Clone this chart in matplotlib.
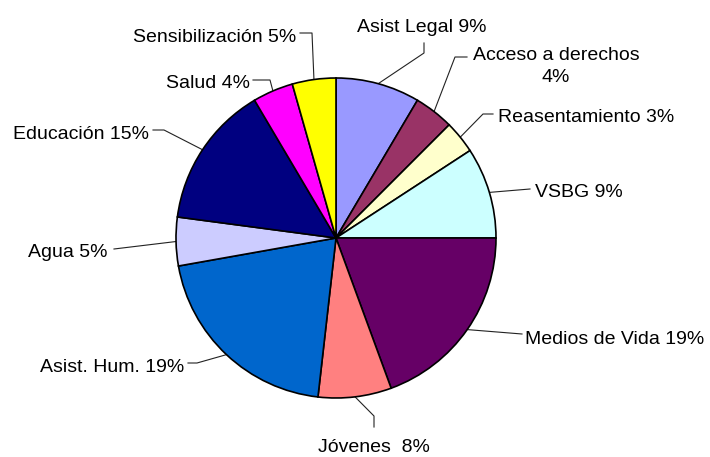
import numpy as np
import matplotlib.pyplot as plt
from matplotlib import font_manager

# slice data, clockwise from 12 o'clock
names = ['Asist Legal', 'Acceso a derechos', 'Reasentamiento', 'VSBG', 'Medios de Vida',
         'Jóvenes', 'Asist. Hum.', 'Agua', 'Educación', 'Salud', 'Sensibilización']
shares = [8.5, 4.0, 3.3, 9.2, 19.4, 7.4, 20.4, 4.9, 14.4, 4.1, 4.4]
pct_labels = ['9%', '4%', '3%', '9%', '19%', '8%', '19%', '5%', '15%', '4%', '5%']
colors = ['#9999FF', '#993366', '#FFFFCC', '#CCFFFF', '#660066', '#FF8080',
          '#0066CC', '#CCCCFF', '#000080', '#FF00FF', '#FFFF00']
label_text = ['Asist Legal 9%', 'Acceso a derechos\n4%', 'Reasentamiento 3%', 'VSBG 9%',
              'Medios de Vida 19%', 'Jóvenes  8%', 'Asist. Hum. 19%', 'Agua 5%',
              'Educación 15%', 'Salud 4%', 'Sensibilización 5%']

W, H = 710, 457

# pick a narrow arial-like font if there is one
family = 'Liberation Sans'
fsize = 14
try:
    font_manager.findfont('Liberation Sans Narrow', fallback_to_default=False)
    family = 'Liberation Sans Narrow'
    fsize = 17
except Exception:
    pass
plt.rcParams['font.family'] = [family, 'DejaVu Sans']

fig = plt.figure(figsize=(W / 100, H / 100), dpi=100)
ax = fig.add_axes([0, 0, 1, 1])

cx, cy, r = 336, H - 238, 160
wedges, _ = ax.pie(shares, colors=colors, startangle=90, counterclock=False,
                   center=(cx, cy), radius=r, frame=True,
                   wedgeprops=dict(edgecolor='black', linewidth=1.2))
ax.set_xlim(0, W)
ax.set_ylim(0, H)
ax.set_aspect('equal')
ax.axis('off')

# label layout in pixel coords (y down): text x, baseline y, align, elbow points
layout = [
    (357, 32, 'left', [(424, 43), (424, 53)]),
    (556, 82, 'center', [(467, 57), (455, 57)]),
    (498, 122, 'left', [(493, 114), (483, 114)]),
    (535, 197, 'left', [(530, 189)]),
    (525, 344, 'left', [(522, 334)]),
    (318, 452, 'left', [(374, 427), (374, 416)]),
    (40, 372, 'left', [(188, 363), (197, 363)]),
    (28, 257, 'left', [(114, 249)]),
    (13, 139, 'left', [(153, 130), (164, 130)]),
    (166, 88, 'left', [(253, 80), (270, 80)]),
    (133, 42, 'left', [(300, 33), (312, 33)]),
]

for w, txt, (tx, ty, ha, elbow) in zip(wedges, label_text, layout):
    mid = np.deg2rad((w.theta1 + w.theta2) / 2)
    ex, ey = cx + r * np.cos(mid), cy + r * np.sin(mid)
    xs = [p[0] for p in elbow] + [ex]
    ys = [H - p[1] for p in elbow] + [ey]
    ax.plot(xs, ys, color='#222222', lw=0.8, zorder=0.5)
    ax.text(tx, H - ty, txt, ha=ha, va='baseline', fontsize=fsize,
            multialignment='center', linespacing=1.4)

fig.savefig('out.png', dpi=100)
